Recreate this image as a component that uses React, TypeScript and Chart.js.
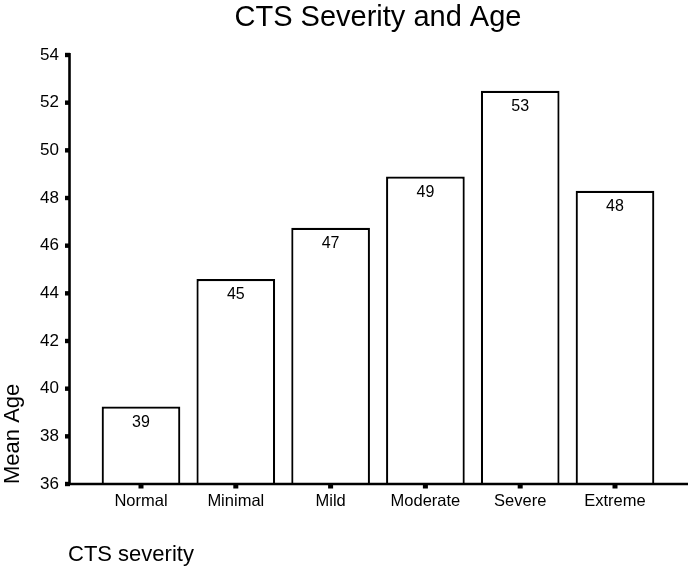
import React, { useEffect, useRef } from "react";
import { Chart, registerables } from "chart.js";

Chart.register(...registerables);

// ---- data ----
const categories: string[] = ["Normal", "Minimal", "Mild", "Moderate", "Severe", "Extreme"];
const meanAge: number[] = [39.25, 44.6, 46.75, 48.9, 52.5, 48.3];
const valueLabels: string[] = meanAge.map((v) => String(Math.round(v)));
const yMin = 36;
const yMax = 54;
const yStep = 2;
const chartTitle = "CTS Severity and Age";
const xAxisTitle = "CTS severity";
const yAxisTitle = "Mean Age";

const FONT = "'Liberation Sans', Arial, Helvetica, sans-serif";

const decorPlugin = {
  id: "decor",
  afterDatasetsDraw(chart: any) {
    const { ctx, scales } = chart;
    const x = scales.x;
    const y = scales.y;
    const yBottom = y.getPixelForValue(yMin);
    const yTop = y.getPixelForValue(yMax);
    const axisX = 69.5;
    ctx.save();
    ctx.fillStyle = "#000";
    ctx.strokeStyle = "#000";
    // y axis line
    ctx.lineWidth = 2.6;
    ctx.beginPath();
    ctx.moveTo(axisX, yTop - 2);
    ctx.lineTo(axisX, yBottom + 1);
    ctx.stroke();
    // x axis line
    ctx.beginPath();
    ctx.moveTo(axisX - 2.5, yBottom);
    ctx.lineTo(688, yBottom);
    ctx.stroke();
    // y tick marks
    y.ticks.forEach((t: any) => {
      const py = y.getPixelForValue(t.value);
      ctx.fillRect(axisX - 4.5, py - 2.2, 5, 4.4);
    });
    // x tick marks
    categories.forEach((_, i) => {
      const px = x.getPixelForValue(i);
      ctx.fillRect(px - 2.5, yBottom, 5, 4.5);
    });
    // value labels inside the bars
    const meta = chart.getDatasetMeta(0);
    ctx.font = `16px ${FONT}`;
    ctx.textAlign = "center";
    ctx.textBaseline = "middle";
    meta.data.forEach((bar: any, i: number) => {
      ctx.fillText(valueLabels[i], bar.x, bar.y + 16);
    });
    // x axis title
    ctx.font = `22px ${FONT}`;
    ctx.textAlign = "left";
    ctx.textBaseline = "alphabetic";
    ctx.fillText(xAxisTitle, 68, 561);
    ctx.restore();
  },
};

export default function App() {
  const canvasRef = useRef<HTMLCanvasElement | null>(null);

  useEffect(() => {
    if (!canvasRef.current) return;
    const chart = new Chart(canvasRef.current, {
      type: "bar",
      data: {
        labels: categories,
        datasets: [
          {
            data: meanAge,
            backgroundColor: "#ffffff",
            borderColor: "#000000",
            borderWidth: 2.2,
            barPercentage: 0.83,
            categoryPercentage: 1,
          },
        ],
      },
      options: {
        responsive: false,
        animation: false,
        layout: { padding: { left: 0, right: 26.6, top: 0, bottom: 0 } },
        plugins: {
          legend: { display: false },
          tooltip: { enabled: false },
          title: {
            display: true,
            text: chartTitle,
            color: "#000",
            fullSize: false,
            font: { family: FONT, size: 29, weight: "normal", lineHeight: 1.2 },
            padding: { top: 0.5, bottom: 19.7 },
          },
        },
        scales: {
          x: {
            offset: true,
            grid: { display: false, drawTicks: false },
            border: { display: false },
            ticks: {
              color: "#000",
              font: { family: FONT, size: 16.5 },
              padding: 8,
              maxRotation: 0,
              autoSkip: false,
            },
            afterFit: (scale: any) => {
              scale.height = 86;
            },
          },
          y: {
            min: yMin,
            max: yMax,
            grid: { display: false, drawTicks: false },
            border: { display: false },
            ticks: {
              stepSize: yStep,
              color: "#000",
              font: { family: FONT, size: 17 },
              padding: 34.6,
            },
            title: {
              display: true,
              text: yAxisTitle,
              align: "start",
              color: "#000",
              font: { family: FONT, size: 22, lineHeight: 1 },
              padding: { top: 2, bottom: 0 },
            },
            afterFit: (scale: any) => {
              scale.width = 93.6;
            },
          },
        },
      },
      plugins: [decorPlugin],
    });
    return () => chart.destroy();
  }, []);

  return (
    <div style={{ position: "absolute", left: 0, top: 0, width: 689, height: 570, background: "#fff" }}>
      <canvas ref={canvasRef} width={689} height={570} style={{ display: "block" }} />
    </div>
  );
}
